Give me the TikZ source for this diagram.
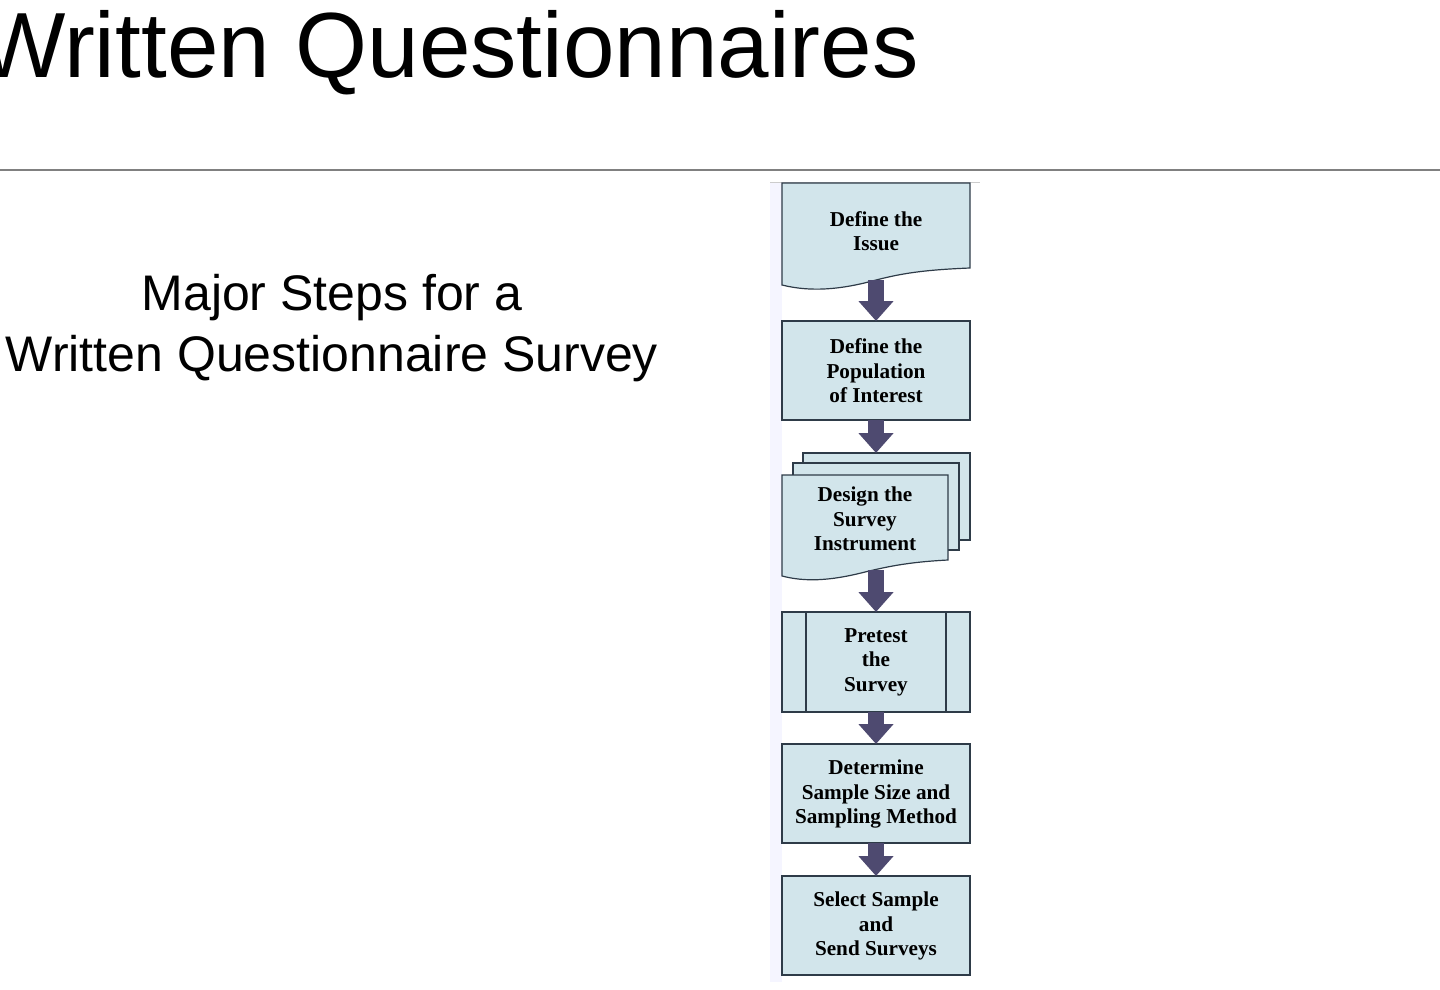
\documentclass[tikz,border=0pt]{standalone}
\usepackage{fontspec}
\setmainfont{Liberation Serif}
\newfontfamily\headfont{Liberation Sans}
\usetikzlibrary{arrows.meta,positioning}
\definecolor{boxfill}{HTML}{D2E5EB}
\definecolor{boxline}{HTML}{2E3B48}
\definecolor{arrowcol}{HTML}{4E4A70}
\begin{document}
\begin{tikzpicture}[x=0.5pt,y=-0.5pt]
	\tikzset{box/.style={fill=boxfill, draw=boxline, line width=0.6pt}}
	\tikzset{label/.style={font=\bfseries\fontsize{10.6}{12.3}\selectfont, align=center, inner sep=0}}
	\tikzset{flow/.style={draw=arrowcol, line width=8pt, -{Triangle[width=17pt,length=10pt]}, shorten >=0pt}}
	\useasboundingbox (0,0) rectangle (1440,990);
	% heading
	\node[anchor=base west, inner sep=0, font=\headfont\fontsize{46.3}{55}\selectfont] (title) at (-22,78) {Written Questionnaires};
	\draw[gray, line width=0.6pt] (0,170) -- (1440,170);
	\node[align=center, font=\headfont\fontsize{25}{30.5}\selectfont] (sub) at (332,328) {Major Steps for a\\Written Questionnaire Survey};
	% strip behind the chart
	\fill[blue!4] (770,182) rectangle (782,982);
	\draw[gray!40] (770,182) -- (980,182);
	% boxes
	\draw[box] (782,183) -- (970,183) -- (970,268) .. controls (920,270) and (900,274) .. (876,280) .. controls (840,290) and (810,292) .. (782,285) -- cycle;
	\draw[box] (782,321) rectangle (970,420);
	\draw[box] (803,453) rectangle (970,540);
	\draw[box] (793,463) rectangle (959,550);
	\draw[box] (782,475) -- (948,475) -- (948,560) .. controls (910,562) and (890,566) .. (865,572) .. controls (830,581) and (805,582) .. (782,576) -- cycle;
	\draw[box] (782,612) rectangle (970,712);
	\draw[boxline, line width=0.6pt] (806,612) -- (806,712) (946,612) -- (946,712);
	\draw[box] (782,744) rectangle (970,843);
	\draw[box] (782,876) rectangle (970,975);
	% labels
	\node[label] (issue) at (876,231) {Define the\\Issue};
	\node[label] (pop) at (876,371) {Define the\\Population\\of Interest};
	\node[label] (design) at (865,519) {Design the\\Survey\\Instrument};
	\node[label] (pretest) at (876,662) {Pretest\\the\\Survey};
	\node[label] (size) at (876,794) {Determine\\Sample Size and\\Sampling Method};
	\node[label] (send) at (876,926) {Select Sample\\and\\Send Surveys};
	% arrow ends
	\coordinate (a1) at (876,280);
	\coordinate (b1) at (876,321);
	\coordinate (a2) at (876,420);
	\coordinate (b2) at (876,453);
	\coordinate (a3) at (876,570);
	\coordinate (b3) at (876,612);
	\coordinate (a4) at (876,712);
	\coordinate (b4) at (876,744);
	\coordinate (a5) at (876,843);
	\coordinate (b5) at (876,876);
	\draw[flow] (a1) -- (b1);
	\draw[flow] (a2) -- (b2);
	\draw[flow] (a3) -- (b3);
	\draw[flow] (a4) -- (b4);
	\draw[flow] (a5) -- (b5);
\end{tikzpicture}
\end{document}
